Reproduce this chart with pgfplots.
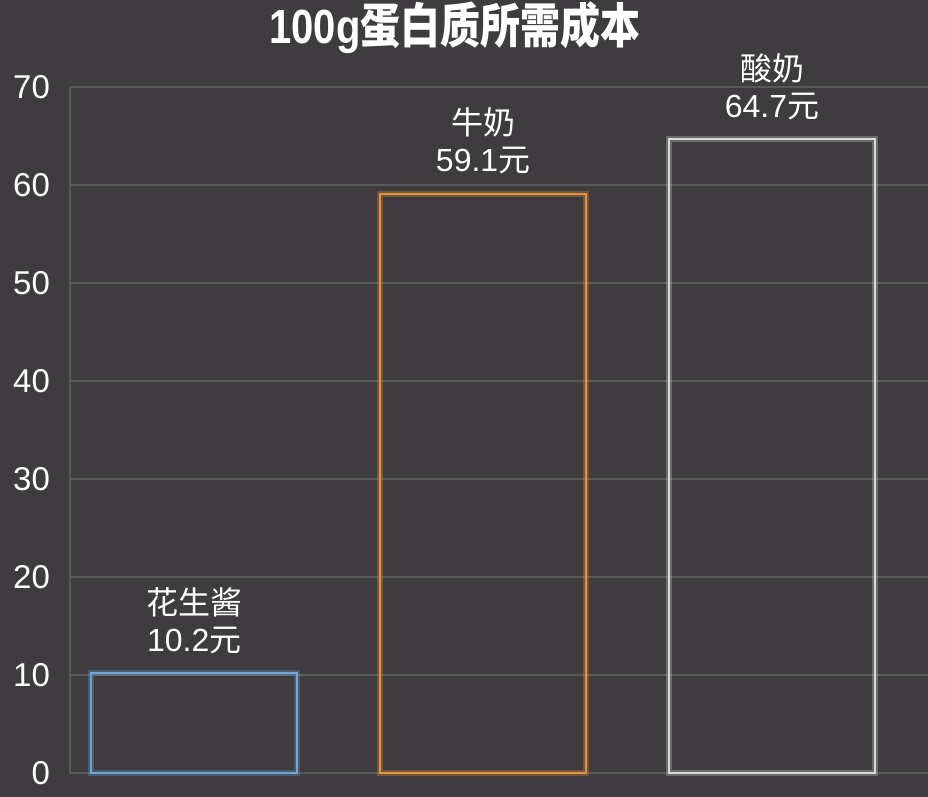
\documentclass[border=0pt]{standalone}
\usepackage{fontspec}
\setmainfont{Liberation Sans}
\newfontfamily\cjk{Noto Sans CJK SC}
\usepackage{pgfplots}
\pgfplotsset{compat=1.18}
\definecolor{bg}{HTML}{3E3C3E}
\definecolor{gridc}{HTML}{5A595A}
\definecolor{cblue}{HTML}{6FA6D8}
\definecolor{corange}{HTML}{E8913C}
\definecolor{cwhite}{HTML}{D9D9D9}
\begin{document}
\begin{tikzpicture}
% background, 1px = 0.5pt
\fill[bg] (-35pt,-12pt) rectangle (429pt,386.5pt);
\begin{axis}[
    at={(0,0)}, anchor=south west,
    scale only axis,
    width=429pt, height=343pt,
    xmin=-0.43, xmax=2.54,
    ymin=0, ymax=70,
    ytick={0,10,...,70},
    xtick=\empty,
    axis x line=none,
    axis y line=left,
    y axis line style={-, draw=gridc, line width=0.6pt},
    ymajorgrids,
    grid style={gridc, line width=0.6pt},
    major tick length=0pt,
    tick label style={white, font=\fontsize{16.5}{16.5}\selectfont},
    yticklabel style={xshift=-6.5pt},
    /pgf/number format/assume math mode=true,
    ybar, bar width=0.713, bar shift=0pt,
    nodes near coords style={white, align=center, anchor=south, yshift=6pt,
        font=\fontsize{16}{18.5}\selectfont,
        /pgf/number format/.cd, fixed, fixed zerofill, precision=1},
    clip=false,
]
\addplot[draw=cblue, fill=none, line width=0.8pt,
    preaction={draw=cblue, line width=2.8pt, draw opacity=0.3},
    nodes near coords={{\cjk 花生酱}\\\pgfmathprintnumber\pgfplotspointmeta{\cjk 元}}]
    coordinates {(0,10.2)};
\addplot[draw=corange, fill=none, line width=0.8pt,
    preaction={draw=corange, line width=2.8pt, draw opacity=0.3},
    nodes near coords={{\cjk 牛奶}\\\pgfmathprintnumber\pgfplotspointmeta{\cjk 元}}]
    coordinates {(1,59.1)};
\addplot[draw=cwhite, fill=none, line width=0.8pt,
    preaction={draw=cwhite, line width=2.8pt, draw opacity=0.3},
    nodes near coords={{\cjk 酸奶}\\\pgfmathprintnumber\pgfplotspointmeta{\cjk 元}}]
    coordinates {(2,64.7)};
\end{axis}
\node[white, font=\fontsize{20}{20}\selectfont\bfseries, yscale=1.2, transform shape]
    at (192.5pt,372.5pt) {100g{\cjk\bfseries 蛋白质所需成本}};
\pgfresetboundingbox
\useasboundingbox (-35pt,-12pt) rectangle (429pt,386.5pt);
\end{tikzpicture}
\end{document}
